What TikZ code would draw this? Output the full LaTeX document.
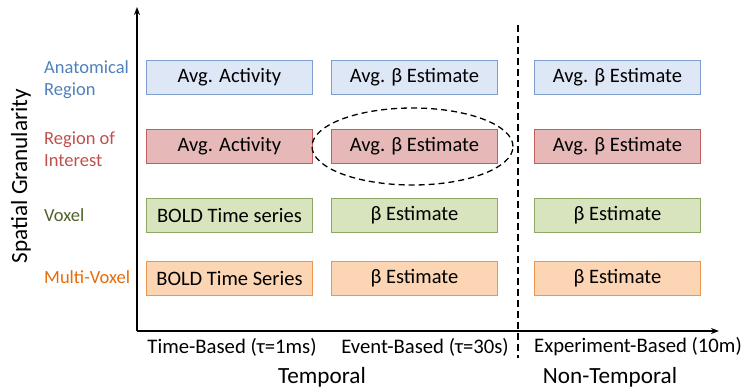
\documentclass[tikz,border=0pt]{standalone}
\usepackage{fontspec}
\setmainfont{Carlito}
\usetikzlibrary{arrows.meta}
\definecolor{bfill}{HTML}{DEE7F5}
\definecolor{bdraw}{HTML}{7E9FCC}
\definecolor{rfill}{HTML}{E6B9B8}
\definecolor{rdraw}{HTML}{C0605C}
\definecolor{gfill}{HTML}{D7E4BD}
\definecolor{gdraw}{HTML}{8FA868}
\definecolor{ofill}{HTML}{FCD5B5}
\definecolor{odraw}{HTML}{F0954E}
\definecolor{blab}{HTML}{4F81BD}
\definecolor{rlab}{HTML}{C0504D}
\definecolor{glab}{HTML}{4F6228}
\definecolor{olab}{HTML}{E46C0A}
\tikzset{
  cell/.style={draw, line width=0.9pt, minimum width=166pt, minimum height=34pt, inner sep=0pt, font=\fontsize{20.5}{23}\selectfont, anchor=north west},
  bluecell/.style={cell, fill=bfill, draw=bdraw},
  redcell/.style={cell, fill=rfill, draw=rdraw},
  greencell/.style={cell, fill=gfill, draw=gdraw},
  orangecell/.style={cell, fill=ofill, draw=odraw},
  rowlab/.style={align=left, anchor=west, inner sep=0pt, font=\fontsize{18.5}{22}\selectfont},
  collab/.style={inner sep=0pt, font=\fontsize{20.7}{23}\selectfont},
  axlab/.style={inner sep=0pt, font=\fontsize{23.2}{26}\selectfont},
}
\begin{document}
\begin{tikzpicture}[x=1pt,y=-1pt]
\useasboundingbox (0,0) rectangle (745,389);
% axes
\coordinate (origin) at (137,331);
\coordinate (ytop) at (137,7);
\coordinate (xend) at (719,331);
\draw[line width=2pt, -{Stealth[length=8pt,width=6pt]}] (origin) -- (ytop);
\draw[line width=1.5pt, -{Stealth[length=8pt,width=6pt]}] (origin) -- (xend);
\coordinate (dtop) at (518,25);
\coordinate (dbot) at (518,358);
\draw[line width=1.3pt, dash pattern=on 7pt off 4pt] (dtop) -- (dbot);
% row 1
\node[bluecell] (a1) at (146,60) {Avg. Activity};
\node[bluecell] (a2) at (331,60) {Avg. β Estimate};
\node[bluecell] (a3) at (534,60) {Avg. β Estimate};
% row 2
\node[redcell] (b1) at (146,129) {Avg. Activity};
\node[redcell] (b2) at (331,129) {Avg. β Estimate};
\node[redcell] (b3) at (534,129) {Avg. β Estimate};
% row 3
\node[greencell] (c1) at (146,198) {BOLD Time series};
\node[greencell] (c2) at (331,198) {β Estimate};
\node[greencell] (c3) at (534,198) {β Estimate};
% row 4
\node[orangecell] (d1) at (146,261) {BOLD Time Series};
\node[orangecell] (d2) at (331,261) {β Estimate};
\node[orangecell] (d3) at (534,261) {β Estimate};
% ellipse
\draw[line width=1.3pt, dash pattern=on 6pt off 4pt] (412.5,146.5) ellipse [x radius=100.5pt, y radius=38.5pt];
% row labels
\node[rowlab, text=blab] (l1) at (44,80) {Anatomical\\Region};
\node[rowlab, text=rlab] (l2) at (44,149) {Region of\\Interest};
\node[rowlab, text=glab] (l3) at (44,215) {Voxel};
\node[rowlab, text=olab] (l4) at (44,277) {Multi-Voxel};
\node[axlab, rotate=90] (ylab) at (21,176) {Spatial Granularity};
% column labels
\node[collab] (t1) at (232,347) {Time-Based (τ=1ms)};
\node[collab] (t2) at (425,347) {Event-Based (τ=30s)};
\node[collab] (t3) at (638,347) {Experiment-Based (10m)};
\node[axlab] (g1) at (322,377) {Temporal};
\node[axlab] (g2) at (610,377) {Non-Temporal};
\end{tikzpicture}
\end{document}
